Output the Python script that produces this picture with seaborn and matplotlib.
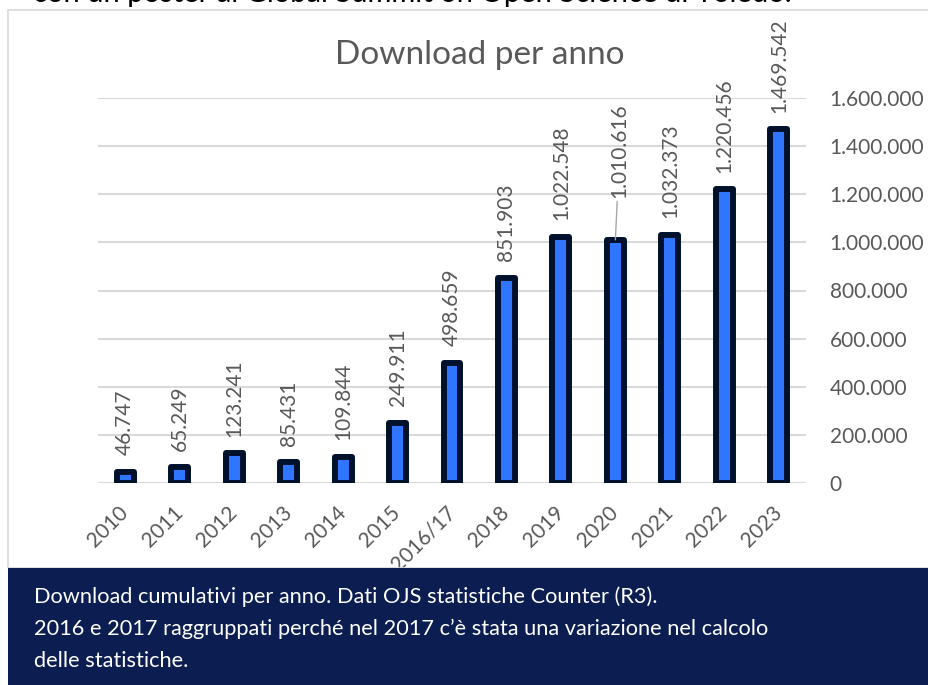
import pandas as pd
import seaborn as sns
import matplotlib.pyplot as plt
from matplotlib.patches import Rectangle
from matplotlib.ticker import FuncFormatter

years = ['2010', '2011', '2012', '2013', '2014', '2015', '2016/17',
         '2018', '2019', '2020', '2021', '2022', '2023']
downloads = [46747, 65249, 123241, 85431, 109844, 249911, 498659,
             851903, 1022548, 1010616, 1032373, 1220456, 1469542]
y_ticks = [0, 200000, 400000, 600000, 800000, 1000000, 1200000, 1400000, 1600000]

title = 'Download per anno'
top_line = 'con un poster al Global Summit on Open Science di Toledo.'
caption = ['Download cumulativi per anno. Dati OJS statistiche Counter (R3).',
           '2016 e 2017 raggruppati perché nel 2017 c\u2019è stata una variazione nel calcolo',
           'delle statistiche.']

def dotted(v, pos=None):
    return f'{int(v):,}'.replace(',', '.')

sns.set_theme(style='white')
plt.rcParams['font.family'] = ['Lato', 'DejaVu Sans']

grey = '#595959'
df = pd.DataFrame({'anno': years, 'download': downloads})

fig = plt.figure(figsize=(9.29, 6.85), dpi=100)
ax = fig.add_axes([98 / 929, 1 - 483 / 685, (806 - 98) / 929, (483 - 98) / 685])

sns.barplot(data=df, x='anno', y='download', color='#3075ff', width=0.31,
            edgecolor='#00112b', linewidth=4.3, saturation=1, ax=ax, zorder=3)
for p in ax.patches:
    p.set_joinstyle('round')

ax.set_ylim(0, 1600000)
ax.set_xlim(-0.5, len(years) - 0.5)
ax.set_yticks(y_ticks)
ax.yaxis.set_major_formatter(FuncFormatter(dotted))
ax.yaxis.tick_right()
ax.tick_params(axis='y', length=0, pad=17, labelsize=15, labelcolor=grey)
ax.tick_params(axis='x', length=0, pad=19, labelsize=15, labelcolor=grey)
ax.set_xticks(range(len(years)), labels=years, rotation=45, ha='right',
              va='center', rotation_mode='anchor')
ax.grid(axis='y', color='#d9d9d9', linewidth=1.5, zorder=0)
ax.set_axisbelow(True)
for s in ax.spines.values():
    s.set_visible(False)
ax.set_xlabel('')
ax.set_ylabel('')

# data labels, 2020 pushed up with a leader line
for i, v in enumerate(downloads):
    if years[i] == '2020':
        ax.annotate(dotted(v), xy=(i, v), xytext=(3, 30), textcoords='offset points',
                    rotation=90, ha='center', va='bottom', fontsize=15, color=grey,
                    annotation_clip=False,
                    arrowprops=dict(arrowstyle='-', color='#a6a6a6', lw=1,
                                    shrinkA=0, shrinkB=0))
    else:
        ax.annotate(dotted(v), xy=(i, v), xytext=(0, 12), textcoords='offset points',
                    rotation=90, ha='center', va='bottom', fontsize=15, color=grey,
                    annotation_clip=False)

fig.text(480 / 929, 1 - 55 / 685, title, ha='center', va='center', fontsize=24, color=grey)

# frame around the chart and the caption band
fig.patches.append(Rectangle((8 / 929, 1 - 568 / 685), 930 / 929, 558 / 685,
                             transform=fig.transFigure, fill=False,
                             edgecolor='#d9d9d9', linewidth=1.2))
fig.patches.append(Rectangle((8 / 929, 0), 921 / 929, 117 / 685,
                             transform=fig.transFigure, facecolor='#0b1d51',
                             edgecolor='none'))
for k, line in enumerate(caption):
    fig.text(34 / 929, 1 - (597 + 32 * k) / 685, line, ha='left', va='center',
             fontsize=15.7, color='white')

# line of the page above, mostly cut off by the top edge
fig.text(33 / 929, 1 - 2 / 685, top_line, ha='left', va='baseline',
         fontsize=21, color='black')

plt.savefig('out.png', dpi=100)
